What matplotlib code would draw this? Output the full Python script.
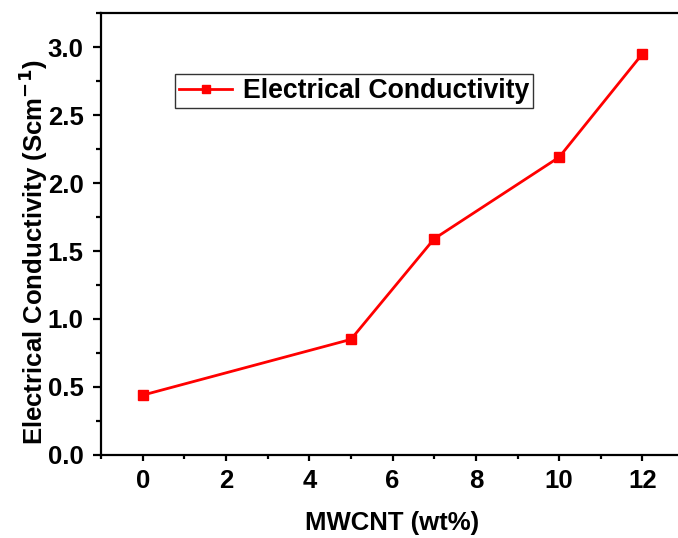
import matplotlib
matplotlib.use("Agg")
import matplotlib.pyplot as plt
from matplotlib.ticker import MultipleLocator, FormatStrFormatter

plt.rcParams['font.family'] = ['Liberation Sans', 'DejaVu Sans']
plt.rcParams['font.weight'] = 'bold'

mwcnt = [0, 5, 7, 10, 12]
conductivity = [0.44, 0.85, 1.59, 2.19, 2.95]

fig = plt.figure(figsize=(6.78, 5.38), dpi=100)
ax = fig.add_axes([0.149, 0.1543, 0.86, 0.8215])

ax.plot(mwcnt, conductivity, color='red', lw=2, marker='s', ms=7.5,
        label='Electrical Conductivity')

ax.set_xlim(-1, 13)
ax.set_ylim(0, 3.25)
ax.xaxis.set_major_locator(MultipleLocator(2))
ax.xaxis.set_minor_locator(MultipleLocator(1))
ax.yaxis.set_major_locator(MultipleLocator(0.5))
ax.yaxis.set_minor_locator(MultipleLocator(0.25))
ax.yaxis.set_major_formatter(FormatStrFormatter('%.1f'))

for s in ax.spines.values():
    s.set_linewidth(1.6)
ax.tick_params(which='major', direction='out', width=1.6, labelsize=18.5)
ax.tick_params(axis='x', which='major', length=4, pad=6)
ax.tick_params(axis='y', which='major', length=5.5, pad=7)
ax.tick_params(axis='x', which='minor', direction='out', length=3, width=1.6)
ax.tick_params(axis='y', which='minor', direction='out', length=3.5, width=1.6)
for lab in ax.get_xticklabels() + ax.get_yticklabels():
    lab.set_fontweight('bold')

ax.set_xlabel('MWCNT (wt%)', fontsize=18.5, fontweight='bold', labelpad=13)
ax.set_ylabel('Electrical Conductivity (Scm$^{\\mathbf{-1}}$)', fontsize=18.5,
              fontweight='bold')
ax.yaxis.set_label_coords(-0.088, 0.459)

leg = ax.legend(loc='upper left', bbox_to_anchor=(0.127, 0.862), fontsize=19.2,
                frameon=True, fancybox=False, edgecolor='black',
                handlelength=2.0, borderpad=0.15, handletextpad=0.4,
                borderaxespad=0, markerscale=0.75)
leg.get_frame().set_linewidth(1.0)
for t in leg.get_texts():
    t.set_fontweight('bold')

fig.savefig('out.png', dpi=100)
